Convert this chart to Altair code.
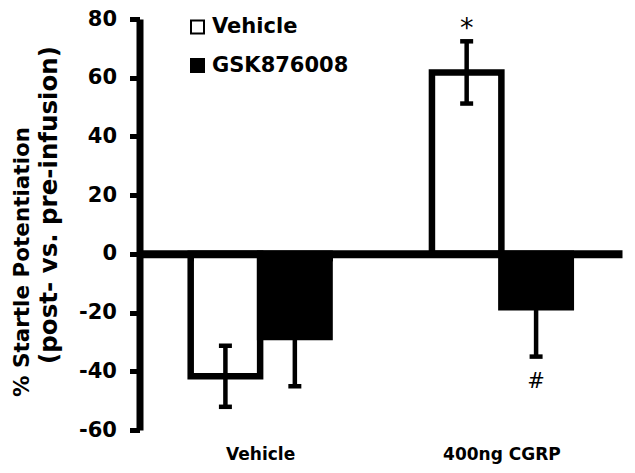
import altair as alt
import pandas as pd

# ---- data ----
groups = ["Vehicle", "400ng CGRP"]
series = ["Vehicle", "GSK876008"]
vehicle_mean = [-41.7, 61.8]
vehicle_sem = [10.4, 10.6]
gsk_mean = [-28.3, -18.2]
gsk_sem = [16.8, 16.8]
y_ticks = [-60, -40, -20, 0, 20, 40, 60, 80]

sig_group = ["400ng CGRP", "400ng CGRP"]
sig_series = ["Vehicle", "GSK876008"]
sig_text = ["*", "#"]
sig_side = ["above", "below"]

title_lines = ["% Startle Potentiation", "(post- vs. pre-infusion)"]

FONT = "DejaVu Sans"

rows = []
for i, g in enumerate(groups):
    rows.append({"group": g, "series": series[0], "mean": vehicle_mean[i], "sem": vehicle_sem[i]})
    rows.append({"group": g, "series": series[1], "mean": gsk_mean[i], "sem": gsk_sem[i]})
df = pd.DataFrame(rows)
df["ylo"] = df["mean"] - df["sem"]
df["yhi"] = df["mean"] + df["sem"]

sig = pd.DataFrame({"group": sig_group, "series": sig_series, "text": sig_text, "side": sig_side})
sig = sig.merge(df, on=["group", "series"])

H = 411
ZERO_FROM_TOP = H * 80 / 140

X = alt.X(
    "group:N",
    sort=groups,
    scale=alt.Scale(domain=groups, paddingInner=0.4244, paddingOuter=0.2122),
    axis=alt.Axis(
        title=None, orient="bottom", offset=-(H - ZERO_FROM_TOP), grid=False,
        domainColor="black", domainWidth=8,
        tickBand="extent", tickColor="black", tickSize=7, tickWidth=6,
        labelFont=FONT, labelFontSize=17, labelFontWeight="bold", labelColor="black",
        labelPadding=186, labelAngle=0, zindex=1,
    ),
)
XO = alt.XOffset("series:N", sort=series, scale=alt.Scale(domain=series, paddingInner=0, paddingOuter=0))
yscale = alt.Scale(domain=[-60, 80], nice=False, zero=False)
yaxis = alt.Axis(
    values=y_ticks, title=None, grid=False,
    domainColor="black", domainWidth=7,
    tickColor="black", tickSize=10, tickWidth=5,
    labelFont=FONT, labelFontSize=21, labelFontWeight="bold", labelColor="black",
    labelPadding=13, labelExpr="'' + datum.value",
)

base = alt.Chart(df)

bars = base.mark_bar(stroke="black", strokeWidth=6.5).encode(
    x=X, xOffset=XO,
    y=alt.Y("mean:Q", scale=yscale, axis=yaxis),
    fill=alt.Fill(
        "series:N", sort=series,
        scale=alt.Scale(domain=series, range=["white", "black"]),
        legend=alt.Legend(
            title=None, orient="none", legendX=47.5, legendY=-2.5, padding=0,
            symbolType="square", symbolSize=169, symbolStrokeColor="black", symbolStrokeWidth=2,
            labelFont=FONT, labelFontSize=21, labelFontWeight="bold", labelColor="black",
            labelOffset=4, rowPadding=16.5,
        ),
    ),
)

stems = base.mark_rule(color="black", strokeWidth=4.5).encode(
    x=X, xOffset=XO,
    y=alt.Y("ylo:Q", scale=yscale, axis=yaxis), y2="yhi:Q",
)
caps_lo = base.mark_tick(color="black", size=13, thickness=4.5, opacity=1).encode(
    x=X, xOffset=XO, y=alt.Y("ylo:Q", scale=yscale, axis=yaxis),
)
caps_hi = base.mark_tick(color="black", size=13, thickness=4.5, opacity=1).encode(
    x=X, xOffset=XO, y=alt.Y("yhi:Q", scale=yscale, axis=yaxis),
)

sig_base = alt.Chart(sig)
star = sig_base.transform_filter(alt.datum.side == "above").mark_text(
    font=FONT, fontSize=27, color="black", dy=-4, baseline="alphabetic"
).encode(x=X, xOffset=XO, y=alt.Y("yhi:Q", scale=yscale, axis=yaxis), text="text:N")
hash_ = sig_base.transform_filter(alt.datum.side == "below").mark_text(
    font=FONT, fontSize=21, color="black", dy=31, baseline="alphabetic"
).encode(x=X, xOffset=XO, y=alt.Y("ylo:Q", scale=yscale, axis=yaxis), text="text:N")

t1 = alt.Chart(pd.DataFrame({"t": [title_lines[0]]})).mark_text(
    font=FONT, fontSize=21.5, fontWeight="bold", color="black", angle=270,
    align="center", baseline="alphabetic",
).encode(x=alt.value(-110.5), y=alt.value(243), text="t:N")
t2 = alt.Chart(pd.DataFrame({"t": [title_lines[1]]})).mark_text(
    font=FONT, fontSize=24.5, fontWeight="bold", color="black", angle=270,
    align="center", baseline="alphabetic",
).encode(x=alt.value(-82.5), y=alt.value(186), text="t:N")

chart = alt.layer(bars, stems, caps_lo, caps_hi, star, hash_, t1, t2).properties(
    width=482.5, height=H,
    padding={"left": 131.5, "top": 11, "right": 5, "bottom": 35},
    autosize=alt.AutoSizeParams(type="none"),
    background="white",
).configure_view(stroke=None)

chart.save("out.html", embed_options={"renderer": "svg", "actions": False})
